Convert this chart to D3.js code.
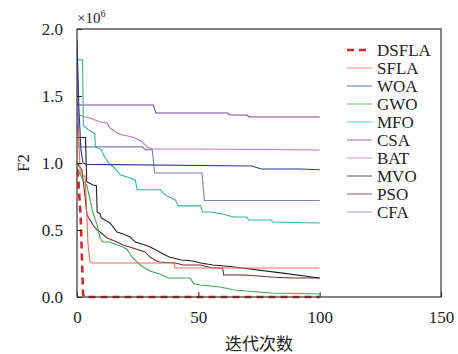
<!DOCTYPE html>
<html>
<head>
<meta charset="utf-8">
<script src="https://cdn.jsdelivr.net/npm/d3@7"></script>
<style>
  body { margin: 0; background: #fff; }
  svg text { font-family: "Liberation Serif", "DejaVu Serif", serif; fill: #222; }
</style>
</head>
<body>
<div id="chart"></div>
<script>
// <-- ************ DATA (values in units of 1e6) ************ -->
const SERIES_NAMES = ["DSFLA", "SFLA", "WOA", "GWO", "MFO", "CSA", "BAT", "MVO", "PSO", "CFA"];
const SERIES_COLORS = ["#d7262b", "#f26b4f", "#2b3990", "#3aaa4f", "#33b3a3", "#7d45a3", "#c274c4", "#231f20", "#6b2e2e", "#7b7fc2"];

// [iteration, value]
const DSFLA = [[0,0.95],[0.5,0.89],[1.5,0.6],[2.5,0.02],[3,0],[100,0]];
const SFLA = [[0,1.3],[0.7,1.2],[1.3,0.93],[3.3,0.9],[4,0.65],[4.5,0.4],[5.3,0.27],[6.2,0.254],[40,0.254],[40.5,0.216],[100,0.216]];
const WOA = [[0,1.92],[0.8,1.4],[1.6,1.1],[2.5,1.0],[4,0.99],[72,0.978],[76,0.955],[92,0.955],[100,0.95]];
const GWO = [[0,0.96],[2.5,0.873],[4,0.836],[5.4,0.724],[6.6,0.627],[8.3,0.537],[9.5,0.44],[10.7,0.41],[13.6,0.41],[16.5,0.388],[19,0.373],[20.7,0.351],[21.9,0.321],[23,0.291],[26,0.239],[30,0.194],[34,0.172],[37.6,0.142],[46.7,0.142],[48,0.1],[50.8,0.09],[59,0.075],[65,0.052],[80,0.03],[100,0.022]];
const MFO = [[0,1.77],[2.3,1.77],[2.6,1.28],[4.5,1.25],[7.3,1.22],[7.6,1.12],[10,1.1],[11,1.06],[13,1.0],[15,0.97],[17,0.93],[18,0.91],[20.7,0.896],[24,0.873],[24.8,0.8],[34.3,0.8],[36.4,0.76],[40.5,0.724],[41.7,0.68],[51,0.68],[51.7,0.634],[55,0.634],[60,0.62],[64.5,0.597],[70,0.597],[70.7,0.575],[80,0.575],[80.6,0.56],[100,0.552]];
const CSA = [[0,1.45],[0.5,1.433],[31.5,1.433],[32.5,1.373],[62,1.373],[63,1.358],[70,1.358],[71,1.343],[100,1.343]];
const BAT = [[0,1.37],[0.8,1.358],[3.3,1.343],[5.4,1.336],[9.5,1.306],[12.4,1.299],[13.6,1.261],[16.5,1.224],[19,1.209],[22.7,1.194],[24.8,1.179],[26.9,1.157],[28.9,1.119],[31,1.104],[50,1.104],[100,1.097]];
const MVO = [[0,1.19],[3.5,1.19],[4,0.86],[6.6,0.836],[8,0.83],[8.3,0.634],[9.5,0.62],[10,0.59],[13.6,0.552],[16.5,0.485],[19,0.47],[21.9,0.448],[24,0.41],[28,0.388],[30,0.375],[34,0.336],[38,0.299],[43,0.276],[47,0.27],[51,0.254],[56,0.239],[63,0.228],[84,0.18],[100,0.142]];
const PSO = [[0,1.0],[2,0.95],[3,0.8],[4.1,0.612],[5.4,0.575],[6.6,0.537],[8.3,0.5],[9.5,0.485],[12.4,0.44],[16.5,0.41],[19,0.388],[23,0.366],[28,0.336],[30,0.299],[32,0.276],[34,0.261],[40.5,0.254],[43.8,0.239],[50.8,0.239],[56,0.216],[60,0.216],[60.5,0.164],[69,0.164],[80,0.149],[88,0.142],[100,0.142]];
const CFA = [[0,1.88],[0.8,1.12],[27,1.12],[28,1.1],[31,1.1],[32,0.925],[51.5,0.925],[52.5,0.72],[100,0.72]];

const SERIES_DATA = [DSFLA, SFLA, WOA, GWO, MFO, CSA, BAT, MVO, PSO, CFA];

const X_TICKS = [0, 50, 100, 150];
const Y_TICKS = [0, 0.5, 1.0, 1.5, 2.0];

// <-- ************ LAYOUT ************ -->
const FRAME_WIDTH = 458;
const FRAME_HEIGHT = 354;
const MARGINS = {left: 77, right: 17, top: 29, bottom: 57};
const GRAPH_WIDTH = FRAME_WIDTH - MARGINS.left - MARGINS.right;
const GRAPH_HEIGHT = FRAME_HEIGHT - MARGINS.top - MARGINS.bottom;

const svg = d3.select("#chart")
  .append("svg")
  .attr("width", FRAME_WIDTH)
  .attr("height", FRAME_HEIGHT);

const X_SCALE = d3.scaleLinear().domain([0, 150]).range([0, GRAPH_WIDTH]);
const Y_SCALE = d3.scaleLinear().domain([0, 2]).range([GRAPH_HEIGHT, 0]);

const g = svg.append("g")
  .attr("transform", "translate(" + MARGINS.left + "," + MARGINS.top + ")");

g.append("clipPath").attr("id", "clip")
  .append("rect")
  .attr("x", 0).attr("y", -2)
  .attr("width", GRAPH_WIDTH).attr("height", GRAPH_HEIGHT + 4);

// LINES
const line = d3.line()
  .x((d) => { return X_SCALE(d[0]); })
  .y((d) => { return Y_SCALE(d[1]); });

const lines = g.append("g").attr("clip-path", "url(#clip)");
// draw DSFLA last so the dashed line sits on top
const order = [9, 8, 7, 6, 5, 4, 3, 2, 1, 0];
order.forEach((i) => {
  lines.append("path")
    .datum(SERIES_DATA[i])
    .attr("d", line)
    .attr("fill", "none")
    .attr("stroke", SERIES_COLORS[i])
    .attr("stroke-width", i === 0 ? 2.6 : 1.1)
    .attr("stroke-dasharray", i === 0 ? "7,5" : null);
});

// AXES (inward ticks)
const xAxis = g.append("g")
  .attr("transform", "translate(0," + GRAPH_HEIGHT + ")")
  .call(d3.axisBottom(X_SCALE).tickValues(X_TICKS).tickSizeInner(-5).tickSizeOuter(0).tickPadding(14));
xAxis.select(".domain").remove();
xAxis.selectAll("line").attr("stroke", "#222");
xAxis.selectAll("text").attr("font-size", "17px").attr("font-family", "Liberation Serif").attr("fill", "#222");

const yAxis = g.append("g")
  .call(d3.axisLeft(Y_SCALE).tickValues(Y_TICKS).tickSizeInner(-5).tickSizeOuter(0).tickPadding(14)
        .tickFormat(d3.format(".1f")));
yAxis.select(".domain").remove();
yAxis.selectAll("line").attr("stroke", "#222");
yAxis.selectAll("text").attr("font-size", "17px").attr("font-family", "Liberation Serif").attr("fill", "#222");

// FRAME
g.append("rect")
  .attr("x", 0).attr("y", 0)
  .attr("width", GRAPH_WIDTH).attr("height", GRAPH_HEIGHT)
  .attr("fill", "none")
  .attr("stroke", "#333")
  .attr("stroke-width", 1.2);

// EXPONENT LABEL
const expo = svg.append("text")
  .attr("x", MARGINS.left)
  .attr("y", 23)
  .attr("font-size", "15px");
expo.append("tspan").text("×10");
expo.append("tspan").attr("font-size", "10px").attr("dy", "-6").text("6");

// AXIS TITLES
svg.append("text")
  .attr("x", MARGINS.left + GRAPH_WIDTH / 2)
  .attr("y", 350)
  .attr("text-anchor", "middle")
  .attr("font-size", "17px")
  .style("font-family", "'Noto Sans CJK SC', sans-serif")
  .text("迭代次数");

svg.append("text")
  .attr("transform", "translate(29," + (MARGINS.top + GRAPH_HEIGHT / 2) + ") rotate(-90)")
  .attr("text-anchor", "middle")
  .attr("font-size", "17px")
  .text("F2");

// LEGEND
const legend = svg.append("g").attr("transform", "translate(347,50)");
SERIES_NAMES.forEach((name, i) => {
  const row = legend.append("g").attr("transform", "translate(0," + (i * 18) + ")");
  row.append("line")
    .attr("x1", 0).attr("x2", i === 0 ? 21 : 25)
    .attr("y1", 0).attr("y2", 0)
    .attr("stroke", SERIES_COLORS[i])
    .attr("stroke-width", i === 0 ? 2.6 : 1)
    .attr("stroke-opacity", i === 0 ? 1 : 0.75)
    .attr("stroke-dasharray", i === 0 ? "7,5" : null);
  row.append("text")
    .attr("x", 30)
    .attr("y", 0)
    .attr("dy", "0.35em")
    .attr("font-size", "17px")
    .text(name);
});
</script>
</body>
</html>
